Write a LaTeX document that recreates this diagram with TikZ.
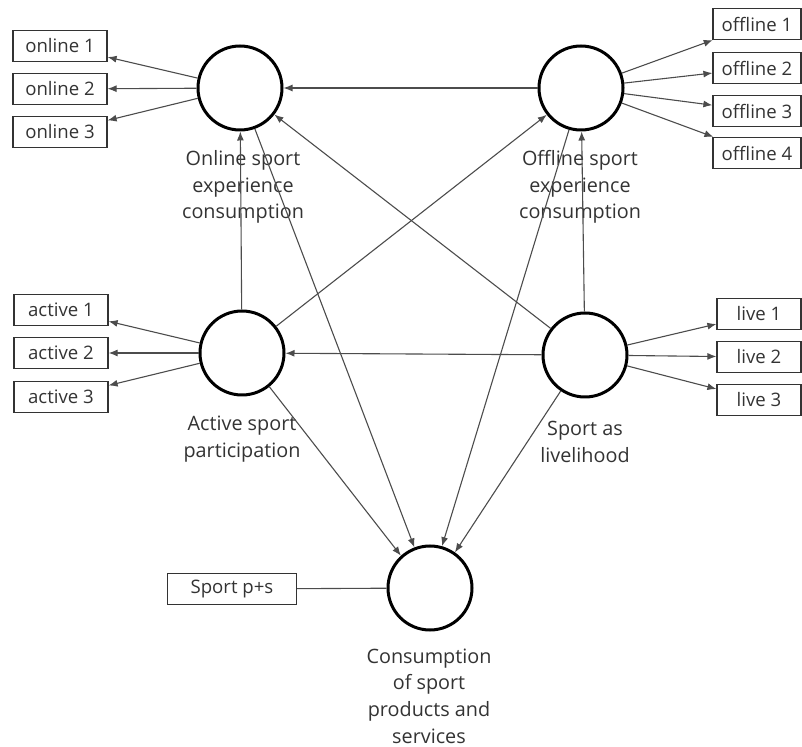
\documentclass[tikz,border=0pt]{standalone}
\usepackage{fontspec}
\setmainfont{Open Sans}
\usetikzlibrary{arrows.meta}

\begin{document}
\begin{tikzpicture}[x=0.5pt, y=-0.5pt,
			latent/.style={circle, draw=black, fill=white, line width=1.5pt, minimum size=42pt, inner sep=0pt},
			indicator/.style={rectangle, draw=black!80, line width=0.6pt, minimum width=47pt, minimum height=15.5pt, inner sep=0pt, text=black!80, font=\fontsize{9.3}{11}\selectfont},
			caption/.style={align=center, text=black!80, font=\fontsize{9.9}{13.3}\selectfont},
			link/.style={draw=black!70, line width=0.55pt, -{Latex[length=4.5pt,width=3.5pt]}},
		]
		
			\useasboundingbox (0,0) rectangle (802,747);
		
			%Constructs
			\node[latent]	(on)	at (240,88)		{};
			\node[latent]	(off)	at (581,88)		{};
			\node[latent]	(act)	at (242,353)	{};
			\node[latent]	(liv)	at (585,355)	{};
			\node[latent]	(con)	at (430,588)	{};
		
			%Captions
			\node[caption]	(onlab)		at (243,187)	{Online sport\\experience\\consumption};
			\node[caption]	(offlab)	at (580,187)	{Offline sport\\experience\\consumption};
			\node[caption]	(actlab)	at (242,439)	{Active sport\\participation};
			\node[caption]	(livlab)	at (585,442)	{Sport as\\livelihood};
			\node[caption]	(conlab)	at (429,696)	{Consumption\\of sport\\products and\\services};
		
			%Indicators
			\node[indicator]	(on1)	at (60,46)		{online 1};
			\node[indicator]	(on2)	at (60,89)		{online 2};
			\node[indicator]	(on3)	at (60,132)		{online 3};
			\node[indicator, minimum width=44pt]	(off1)	at (757,24)		{offline 1};
			\node[indicator, minimum width=44pt]	(off2)	at (757,68)		{offline 2};
			\node[indicator, minimum width=44pt]	(off3)	at (757,111)	{offline 3};
			\node[indicator, minimum width=44pt]	(off4)	at (757,153)	{offline 4};
			\node[indicator]	(act1)	at (61,310)		{active 1};
			\node[indicator]	(act2)	at (61,353)		{active 2};
			\node[indicator]	(act3)	at (61,397)		{active 3};
			\node[indicator, minimum width=42pt]	(liv1)	at (759,314)	{live 1};
			\node[indicator, minimum width=42pt]	(liv2)	at (759,357)	{live 2};
			\node[indicator, minimum width=42pt]	(liv3)	at (759,400)	{live 3};
			\node[indicator, minimum width=64.5pt]	(sps)	at (232,589)	{Sport p+s};
		
			%Loadings
			\draw[link]	(on) -- (on1);
			\draw[link]	(on) -- (on2);
			\draw[link]	(on) -- (on3);
			\draw[link]	(off) -- (off1);
			\draw[link]	(off) -- (off2);
			\draw[link]	(off) -- (off3);
			\draw[link]	(off) -- (off4);
			\draw[link]	(act) -- (act1);
			\draw[link]	(act) -- (act2);
			\draw[link]	(act) -- (act3);
			\draw[link]	(liv) -- (liv1);
			\draw[link]	(liv) -- (liv2);
			\draw[link]	(liv) -- (liv3);
			\draw[draw=black!70, line width=0.55pt]	(sps) -- (con);
		
			%Paths
			\draw[link]	(off) -- (on);
			\draw[link]	(act) -- (on);
			\draw[link]	(liv) -- (on);
			\draw[link]	(liv) -- (off);
			\draw[link]	(act) -- (off);
			\draw[link]	(liv) -- (act);
			\draw[link]	(on.-70) -- (con.111);
			\draw[link]	(act.-51) -- (con.132);
			\draw[link]	(off.-106) -- (con.74);
			\draw[link]	(liv.-124) -- (con.55);
		
		\end{tikzpicture}
\end{document}
